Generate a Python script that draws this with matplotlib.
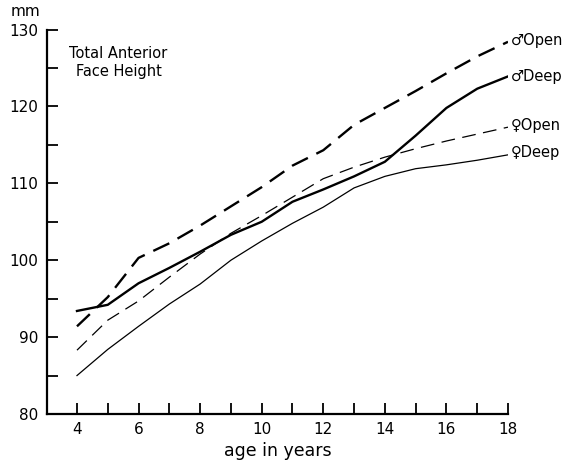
import matplotlib
matplotlib.use("Agg")
import matplotlib.pyplot as plt
from matplotlib.ticker import MultipleLocator

ages = [4, 5, 6, 7, 8, 9, 10, 11, 12, 13, 14, 15, 16, 17, 18]
male_open = [91.4, 95.2, 100.3, 102.2, 104.5, 107.0, 109.5, 112.3, 114.3, 117.6, 119.8, 122.0, 124.3, 126.5, 128.4]
male_deep = [93.4, 94.2, 97.0, 99.0, 101.1, 103.3, 105.0, 107.6, 109.2, 110.9, 112.8, 116.2, 119.8, 122.3, 123.9]
female_open = [88.3, 92.2, 94.7, 97.8, 100.8, 103.5, 105.8, 108.2, 110.6, 112.1, 113.4, 114.5, 115.5, 116.4, 117.3]
female_deep = [85.0, 88.4, 91.4, 94.3, 96.9, 100.0, 102.5, 104.8, 106.9, 109.4, 110.9, 111.9, 112.4, 113.0, 113.7]

series_labels = ["\u2642Open", "\u2642Deep", "\u2640Open", "\u2640Deep"]
x_ticks = [4, 6, 8, 10, 12, 14, 16, 18]
y_ticks = [80, 90, 100, 110, 120, 130]

plt.rcParams['font.family'] = ['DejaVu Sans']

fig = plt.figure(figsize=(5.65, 4.65), dpi=100)
ax = fig.add_axes([47/565, 1 - 414/465, (508 - 47)/565, (414 - 29.5)/465])

ax.plot(ages, male_open, color='black', lw=1.7, dashes=(7.5, 4))
ax.plot(ages, male_deep, color='black', lw=1.7)
ax.plot(ages, female_open, color='black', lw=0.9, dashes=(11, 6))
ax.plot(ages, female_deep, color='black', lw=0.9)

ends = [male_open[-1], male_deep[-1], female_open[-1], female_deep[-1]]
offs = [0.15, 0.0, 0.2, 0.3]
for lab, yv, o in zip(series_labels, ends, offs):
    ax.text(18.08, yv + o, lab, ha='left', va='center', fontsize=10.5, clip_on=False)

ax.set_xlim(3.026, 18)
ax.set_ylim(80, 130)
ax.set_xticks(x_ticks)
ax.set_yticks(y_ticks)
ax.xaxis.set_minor_locator(MultipleLocator(1))
ax.yaxis.set_minor_locator(MultipleLocator(5))
ax.tick_params(which='both', direction='in', length=8, width=1.3, labelsize=11)
ax.tick_params(axis='y', pad=6)
ax.tick_params(axis='x', pad=6)

for s in ['top', 'right']:
    ax.spines[s].set_visible(False)
for s in ['left', 'bottom']:
    ax.spines[s].set_linewidth(1.6)

ax.set_xlabel('age in years', fontsize=12.5, labelpad=3)
ax.text(5.35, 125.7, 'Total Anterior\nFace Height', ha='center', va='center', fontsize=10.5, linespacing=1.3)
fig.text(26/565, 1 - 12/465, 'mm', ha='center', va='center', fontsize=11)

fig.savefig('out.png', dpi=100)
